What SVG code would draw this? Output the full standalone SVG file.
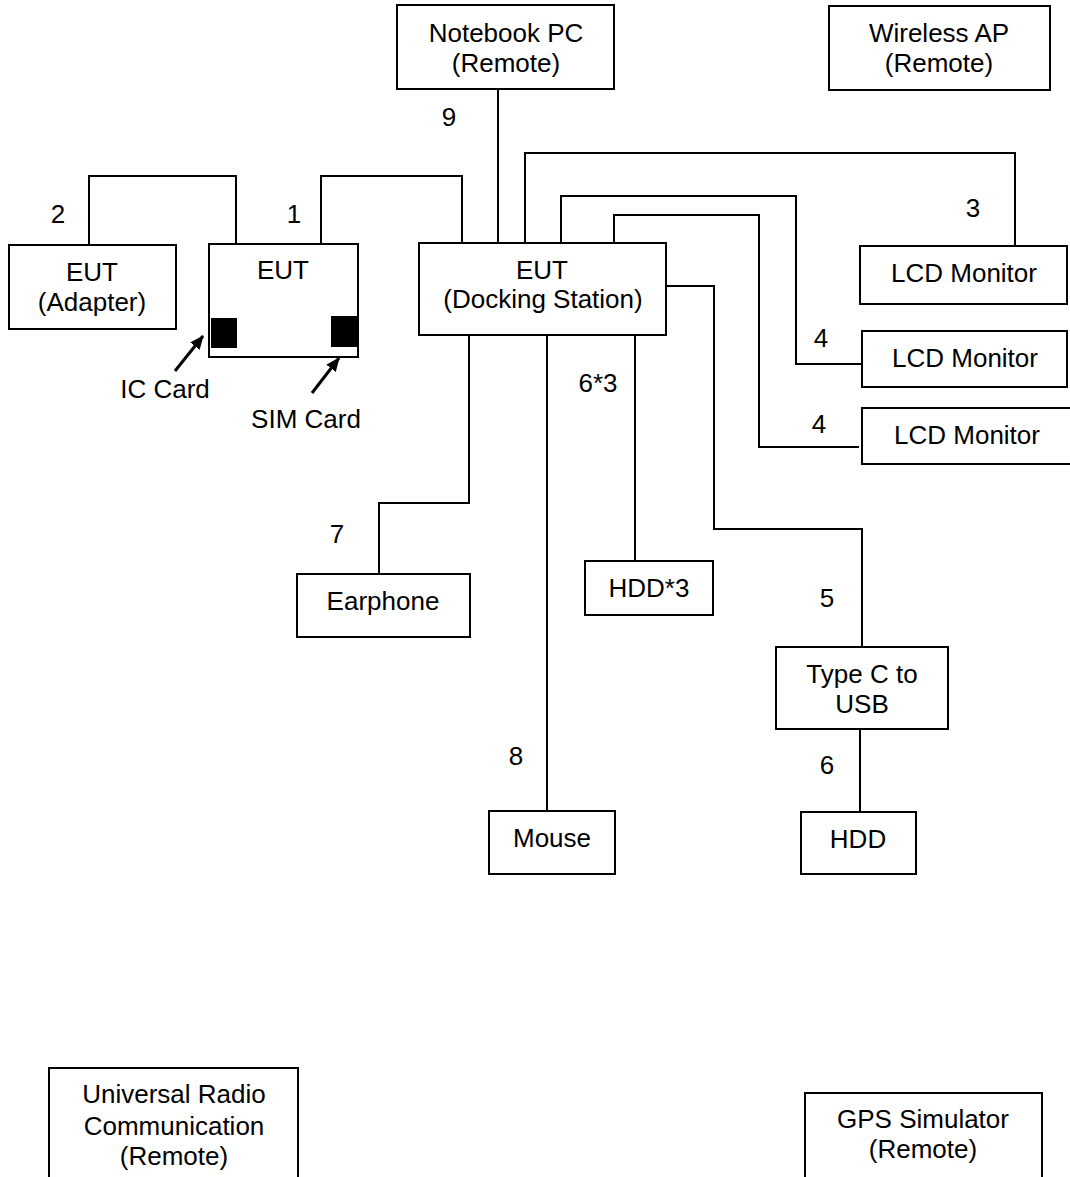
<svg xmlns="http://www.w3.org/2000/svg" width="1070" height="1177" viewBox="0 0 1070 1177">
<style>
.b{fill:#fff;stroke:#000;stroke-width:2}
.c{fill:none;stroke:#000;stroke-width:2}
.a{fill:none;stroke:#000;stroke-width:3}
text{font-family:"Liberation Sans",Arial,sans-serif;font-size:26px;fill:#000;text-anchor:middle}
</style>
<defs>
<marker id="ah" viewBox="0 0 14 12" refX="13" refY="6" markerWidth="14" markerHeight="12" orient="auto" markerUnits="userSpaceOnUse">
<path d="M0,0 L14,6 L0,12 z" fill="#000"/>
</marker>
</defs>
<rect width="1070" height="1177" fill="#fff"/>
<g id="connectors">
<polyline class="c" points="89,245 89,176 236,176 236,244"/>
<polyline class="c" points="321,244 321,176 462,176 462,243"/>
<polyline class="c" points="498,89 498,243"/>
<polyline class="c" points="525,243 525,153 1015,153 1015,246"/>
<polyline class="c" points="561,243 561,196 796,196 796,364 862,364"/>
<polyline class="c" points="614,243 614,215 759,215 759,447 859,447"/>
<polyline class="c" points="666,286 714,286 714,529 862,529 862,647"/>
<polyline class="c" points="469,335 469,503 379,503 379,574"/>
<polyline class="c" points="547,335 547,811"/>
<polyline class="c" points="635,335 635,561"/>
<polyline class="c" points="860,729 860,812"/>
<line class="a" x1="175" y1="371" x2="203" y2="336" marker-end="url(#ah)"/>
<line class="a" x1="312" y1="393" x2="339" y2="358" marker-end="url(#ah)"/>
</g>
<g id="labels">
<text x="58" y="223">2</text>
<text x="294" y="223">1</text>
<text x="449" y="126">9</text>
<text x="973" y="217">3</text>
<text x="821" y="347">4</text>
<text x="819" y="433">4</text>
<text x="598" y="392">6*3</text>
<text x="827" y="607">5</text>
<text x="337" y="543">7</text>
<text x="516" y="765">8</text>
<text x="827" y="774">6</text>
<text x="165" y="398">IC Card</text>
<text x="306" y="428">SIM Card</text>
</g>
<g id="notebook"><rect class="b" x="397" y="5" width="217" height="84"/><text x="506" y="42">Notebook PC</text><text x="506" y="72">(Remote)</text></g>
<g id="wirelessap"><rect class="b" x="829" y="6" width="221" height="84"/><text x="939" y="42">Wireless AP</text><text x="939" y="72">(Remote)</text></g>
<g id="adapter"><rect class="b" x="9" y="245" width="167" height="84"/><text x="92" y="281">EUT</text><text x="92" y="311">(Adapter)</text></g>
<g id="eut"><rect class="b" x="209" y="244" width="149" height="113"/><text x="283" y="279">EUT</text>
<rect x="211" y="318" width="26" height="30" fill="#000"/><rect x="331" y="316" width="26" height="31" fill="#000"/></g>
<g id="dock"><rect class="b" x="419" y="243" width="247" height="92"/><text x="542" y="279">EUT</text><text x="543" y="308">(Docking Station)</text></g>
<g id="lcd1"><rect class="b" x="860" y="246" width="207" height="58"/><text x="964" y="282">LCD Monitor</text></g>
<g id="lcd2"><rect class="b" x="862" y="331" width="205" height="56"/><text x="965" y="367">LCD Monitor</text></g>
<g id="lcd3"><rect class="b" x="862" y="408" width="210" height="56"/><text x="967" y="444">LCD Monitor</text></g>
<g id="earphone"><rect class="b" x="297" y="574" width="173" height="63"/><text x="383" y="610">Earphone</text></g>
<g id="hdd3"><rect class="b" x="585" y="561" width="128" height="54"/><text x="649" y="597">HDD*3</text></g>
<g id="typec"><rect class="b" x="776" y="647" width="172" height="82"/><text x="862" y="683">Type C to</text><text x="862" y="713">USB</text></g>
<g id="mouse"><rect class="b" x="489" y="811" width="126" height="63"/><text x="552" y="847">Mouse</text></g>
<g id="hdd"><rect class="b" x="801" y="812" width="115" height="62"/><text x="858" y="848">HDD</text></g>
<g id="urc"><rect class="b" x="49" y="1068" width="249" height="120"/><text x="174" y="1103">Universal Radio</text><text x="174" y="1135">Communication</text><text x="174" y="1165">(Remote)</text></g>
<g id="gps"><rect class="b" x="805" y="1093" width="237" height="100"/><text x="923" y="1128">GPS Simulator</text><text x="923" y="1158">(Remote)</text></g>
</svg>
